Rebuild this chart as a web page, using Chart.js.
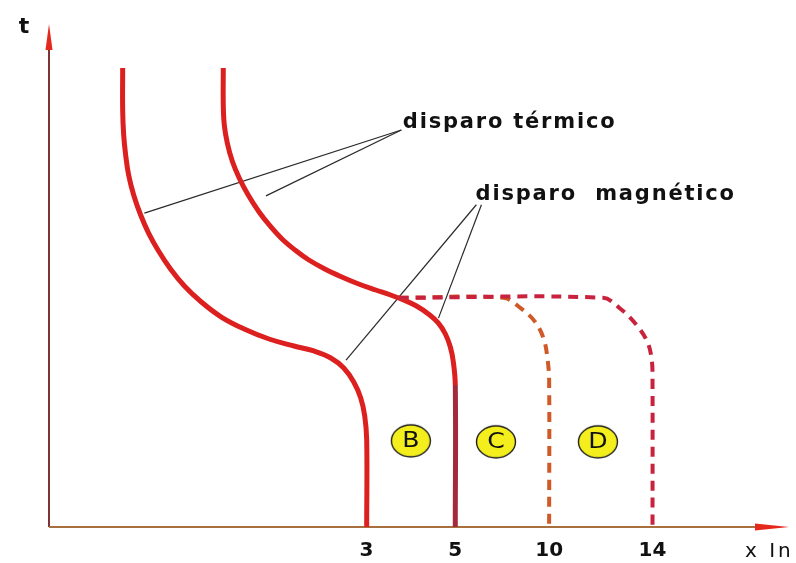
<!DOCTYPE html>
<html lang="es">
<head>
<meta charset="UTF-8">
<title>Curvas de disparo B, C, D</title>
<script src="https://cdn.jsdelivr.net/npm/chart.js"></script>
<style>
  html, body { margin: 0; padding: 0; background: #fff; }
  #wrap { width: 796px; height: 563px; }
</style>
</head>
<body>
<div id="wrap"><canvas id="curvas"></canvas></div>
<script>
// x axis: multiples of In (schematic position + label)
const xTickPos = [43.6, 55.8, 68.7, 82.9];
const xTickLabels = ['3', '5', '10', '14'];
const xTitle = 'x In';
const yTitle = 't';

// trip curves, [x, t] in chart units (0..100 both ways)
const curveB = [
  [10.12, 92.73], [10.12, 84.24], [10.26, 79.19], [10.53, 75.15], [10.94, 71.11],
  [11.63, 67.07], [12.59, 63.03], [13.68, 59.39], [15.05, 55.76], [16.69, 52.12],
  [18.60, 48.69], [20.93, 45.45], [23.67, 42.42], [26.81, 40.00], [30.23, 37.98],
  [33.65, 36.57], [36.39, 35.56], [38.71, 34.14], [40.49, 32.12], [41.86, 29.29],
  [42.82, 26.06], [43.37, 22.42], [43.64, 17.58], [43.64, 0]
];
const curveC = [
  [23.94, 92.73], [23.94, 85.25], [24.08, 81.21], [24.49, 77.58], [25.17, 73.94],
  [26.13, 70.51], [27.36, 67.07], [28.86, 63.64], [30.37, 60.81], [32.01, 58.18],
  [33.79, 55.96], [35.70, 53.94], [37.89, 52.12], [40.22, 50.51], [42.54, 49.09],
  [44.87, 47.88], [46.92, 46.87], [48.70, 45.86], [50.48, 44.65], [52.12, 43.03],
  [53.49, 41.21], [54.45, 38.99], [55.13, 36.36], [55.54, 33.33], [55.81, 28.69],
  [55.81, 0]
];
const curve10 = [
  [48.0, 46.3], [62.4, 46.3], [64.8, 44.2], [66.8, 41.4], [68.0, 37.8],
  [68.5, 33.7], [68.7, 29.7], [68.7, 0]
];
const curve14 = [
  [48.0, 46.3], [76.1, 46.3], [78.4, 44.2], [80.6, 41.0], [82.2, 37.4],
  [82.8, 33.7], [82.9, 29.7], [82.9, 0]
];

// callout lines: text anchor -> curve
const leaderThermal = [[[48.4, 80.2], [13.1, 63.4]], [[48.4, 80.2], [29.8, 66.9]]];
const leaderMagnetic = [[[58.7, 65.1], [40.8, 33.7]], [[59.4, 65.1], [53.5, 42.2]]];

const noteText = ['disparo térmico', 'disparo  magnético'];
const noteX = [48.6, 58.6];
const noteY = [81.8, 67.1];

// zone badges
const zoneLabels = ['B', 'C', 'D'];
const zoneX = [49.7, 61.4, 75.4];
const zoneY = [17.4, 17.2, 17.2];

const pts = arr => arr.map(([x, y]) => ({ x, y }));

// yellow oval used as point style for the zone badges
function makeBadge() {
  const c = document.createElement('canvas');
  c.width = 42; c.height = 36;
  const g = c.getContext('2d');
  g.beginPath();
  g.ellipse(21, 18, 19.5, 16, 0, 0, Math.PI * 2);
  g.fillStyle = '#f3ee1c';
  g.fill();
  g.lineWidth = 1.4;
  g.strokeStyle = '#1e1e1e';
  g.stroke();
  return c;
}

const solid = (data, extra) => Object.assign({
  data: pts(data), showLine: true, pointRadius: 0, borderWidth: 5,
  borderColor: '#dc1f1f', tension: 0.4, fill: false
}, extra || {});

const dashed = (data, color) => ({
  data: pts(data), showLine: true, pointRadius: 0, borderWidth: 4,
  borderColor: color, borderDash: [10, 7], tension: 0.35, fill: false
});

const leader = seg => ({
  data: pts(seg), showLine: true, pointRadius: 0, borderWidth: 1.2,
  borderColor: '#2a2a2a', tension: 0, fill: false
});

const datasets = [
  dashed(curve14, '#c8223e'),
  dashed(curve10, '#cf5a28'),
  solid(curveB),
  solid(curveC, { segment: { borderColor: c => c.p0.parsed.y < 30 ? '#a32a3c' : undefined } }),
  ...leaderThermal.map(leader),
  ...leaderMagnetic.map(leader),
  {
    data: zoneX.map((x, i) => ({ x, y: zoneY[i] })),
    showLine: false, pointStyle: makeBadge(), pointRadius: 18
  }
];
const badgeIndex = datasets.length - 1;

const decor = {
  id: 'decor',
  beforeDatasetsDraw(chart) {
    const { ctx, chartArea: a } = chart;
    ctx.save();
    ctx.lineWidth = 2;
    ctx.strokeStyle = '#7d3434';
    ctx.beginPath(); ctx.moveTo(a.left, a.bottom); ctx.lineTo(a.left, a.top); ctx.stroke();
    ctx.strokeStyle = '#a8703e';
    ctx.beginPath(); ctx.moveTo(a.left, a.bottom); ctx.lineTo(a.right, a.bottom); ctx.stroke();
    // arrow heads
    ctx.fillStyle = '#e4281c';
    ctx.beginPath();
    ctx.moveTo(a.left, a.top - 8);
    ctx.lineTo(a.left + 3.5, a.top + 18);
    ctx.lineTo(a.left - 3.5, a.top + 18);
    ctx.closePath(); ctx.fill();
    ctx.beginPath();
    ctx.moveTo(a.right + 12, a.bottom);
    ctx.lineTo(a.right - 22, a.bottom - 3.5);
    ctx.lineTo(a.right - 22, a.bottom + 3.5);
    ctx.closePath(); ctx.fill();
    ctx.restore();
  },
  afterDatasetsDraw(chart) {
    const { ctx, chartArea: a, scales: { x, y } } = chart;
    ctx.save();
    ctx.fillStyle = '#111';
    ctx.textBaseline = 'middle';

    ctx.font = 'bold 22px "DejaVu Sans"';
    ctx.textAlign = 'center';
    ctx.fillText(yTitle, a.left - 25, a.top - 5);

    ctx.font = '20px "DejaVu Sans"';
    ctx.textAlign = 'left';
    ctx.letterSpacing = '3px';
    ctx.fillText(xTitle, a.right - 32, a.bottom + 25);

    ctx.font = 'bold 21px "DejaVu Sans"';
    ctx.letterSpacing = '1.8px';
    noteText.forEach((t, i) => {
      ctx.fillText(t, x.getPixelForValue(noteX[i]), y.getPixelForValue(noteY[i]));
    });

    ctx.letterSpacing = '0px';
    ctx.font = '21px "DejaVu Sans"';
    ctx.textAlign = 'center';
    chart.getDatasetMeta(badgeIndex).data.forEach((p, i) => {
      ctx.save();
      ctx.translate(p.x, p.y + 1);
      ctx.scale(1.2, 1);
      ctx.fillText(zoneLabels[i], 0, 0);
      ctx.restore();
    });
    ctx.restore();
  }
};

new Chart(document.getElementById('curvas'), {
  type: 'scatter',
  data: { datasets },
  options: {
    responsive: true,
    maintainAspectRatio: false,
    animation: false,
    events: [],
    layout: { padding: { left: 49, right: 16, top: 32, bottom: 0 } },
    plugins: { legend: { display: false }, tooltip: { enabled: false } },
    scales: {
      x: {
        type: 'linear', min: 0, max: 100,
        grid: { display: false, drawTicks: false },
        border: { display: false },
        afterBuildTicks: s => { s.ticks = xTickPos.map(v => ({ value: v })); },
        afterFit: s => { s.height = 36; },
        ticks: {
          autoSkip: false, maxRotation: 0, padding: 12, color: '#111',
          font: { family: 'DejaVu Sans', weight: 'bold', size: 20 },
          callback: (v, i) => xTickLabels[i]
        }
      },
      y: { type: 'linear', min: 0, max: 100, display: false }
    }
  },
  plugins: [decor]
});
</script>
</body>
</html>
